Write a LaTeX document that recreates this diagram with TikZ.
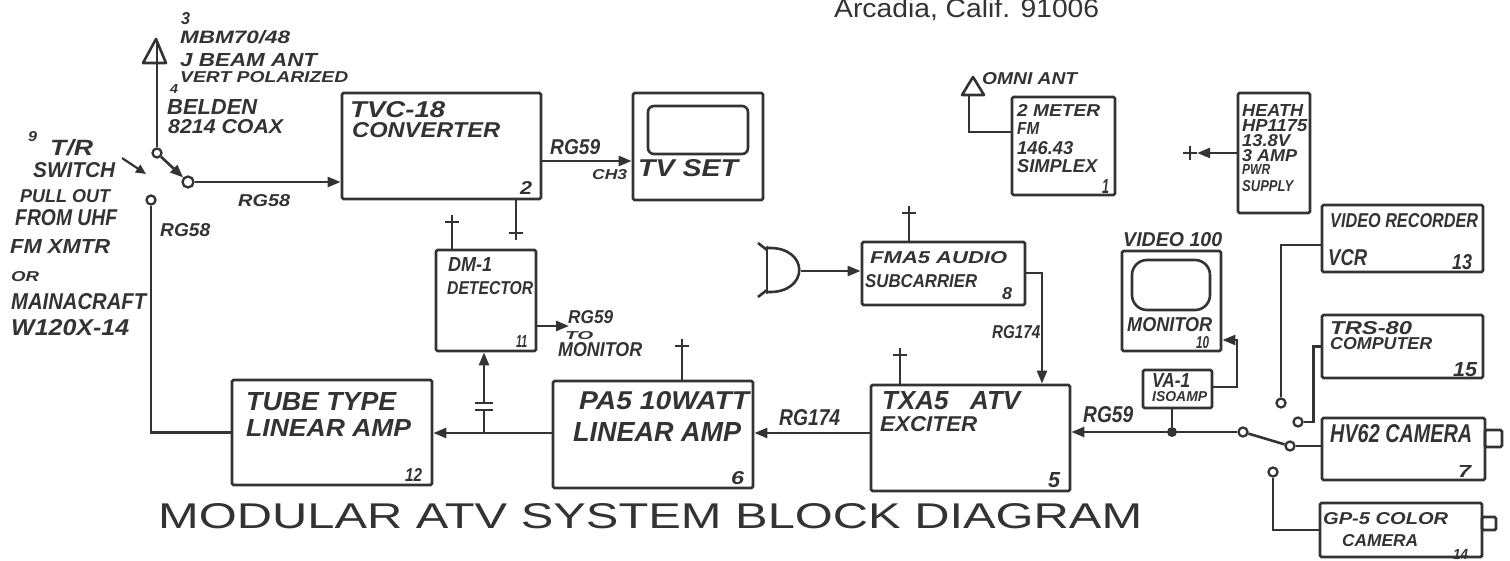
\documentclass[tikz,border=0pt]{standalone}
\usepackage{fontspec}
\setmainfont{Liberation Sans}
\newfontfamily\hand{Liberation Sans}
\usetikzlibrary{arrows.meta,calc}
\definecolor{ink}{HTML}{333333}
\newcommand\hw[3]{\resizebox{#1pt}{#2pt}{\hand\bfseries\itshape #3}}
\newcommand\lab[6]{\node[lbl] (#1) at (#2,#3) {\hw{#4}{#5}{#6}};}
\tikzset{
  box/.style={draw=ink,line width=2.8pt,inner sep=0pt,rounded corners=1.5pt},
  wire/.style={draw=ink,line width=2.6pt},
  arr/.style={wire,-{Triangle[length=13pt,width=10pt]}},
  lbl/.style={anchor=west,inner sep=0pt,text=ink},
  plus/.style={minimum size=14pt,inner sep=0pt,
    path picture={\draw[ink,line width=2.4pt]
      (path picture bounding box.north)--(path picture bounding box.south)
      (path picture bounding box.west)--(path picture bounding box.east);}},
  contact/.style={circle,draw=ink,line width=2.3pt,minimum size=9pt,inner sep=0pt,fill=white},
  jdot/.style={circle,fill=ink,minimum size=10pt,inner sep=0pt},
}
\begin{document}
\begin{tikzpicture}[x=1pt,y=-1pt]
\useasboundingbox[fill=white] (0,0) rectangle (1510,561);

% ---------- boxes ----------
\node[box,minimum width=199pt,minimum height=106pt] (tvc) at (441.5,146) {};
\node[box,minimum width=130pt,minimum height=107pt] (tv) at (698,146.5) {};
\node[box,minimum width=100pt,minimum height=101pt] (dm) at (486,300.5) {};
\node[box,minimum width=200pt,minimum height=105pt] (tube) at (332,432.5) {};
\node[box,minimum width=200pt,minimum height=107pt] (pa) at (653,434.5) {};
\node[box,minimum width=199pt,minimum height=106pt] (tx) at (970.5,438) {};
\node[box,minimum width=163pt,minimum height=63pt] (fma) at (943.5,273.5) {};
\node[box,minimum width=99pt,minimum height=100pt] (mon) at (1171.5,301) {};
\node[box,minimum width=69pt,minimum height=38pt] (va) at (1177.5,389) {};
\node[box,minimum width=103pt,minimum height=98pt] (meter) at (1063.5,146) {};
\node[box,minimum width=72pt,minimum height=120pt] (heath) at (1274,153) {};
\node[box,minimum width=161pt,minimum height=67pt] (vcr) at (1402.5,238.5) {};
\node[box,minimum width=161pt,minimum height=63pt] (trs) at (1402.5,346.5) {};
\node[box,minimum width=163pt,minimum height=62pt] (hv) at (1403.5,449) {};
\node[box,minimum width=162pt,minimum height=54pt] (gp) at (1401,530) {};
\node[box,minimum width=17pt,minimum height=17pt] (lens1) at (1493.5,438.5) {};
\node[box,minimum width=14pt,minimum height=13pt] (lens2) at (1489,523.5) {};

% screens
\draw[wire,rounded corners=6pt] (648,106) rectangle (748,154);
\draw[wire,rounded corners=15pt] (1132,260) rectangle (1210,310);

% ---------- antenna + T/R switch (top left) ----------
\draw[wire,line join=round] (156,39) -- (143,63) -- (166,63) -- cycle;
\coordinate (ant1) at (157,40);
\node[contact] (c1) at (157,153) {};
\node[contact,minimum size=11pt] (c2) at (188,182) {};
\node[contact] (c3) at (151,200) {};
\draw[wire] (ant1) -- (c1.north);
\draw[arr] (c1) -- (c2);
\draw[arr] (c2) -- (c2 -| tvc.west);
\draw[wire] (c3.south) |- (tube.west);
\coordinate (tra) at (122,158);
\coordinate (trb) at (146,174);
\draw[arr,line width=2.2pt,-{Triangle[length=10pt,width=9pt]}] (tra) -- (trb);

% ---------- TVC / TV ----------
\draw[arr] ([yshift=-15pt]tvc.east) -- ([yshift=-15pt]tvc.east -| tv.west);
\node[plus] (pTV) at (516,233) {};
\draw[wire] (pTV.north |- tvc.south) -- (pTV.north);

% ---------- DM-1 ----------
\node[plus] (pDM) at (452,222) {};
\draw[wire] (pDM.south) -- (pDM.south |- dm.north);
\coordinate (dmo) at (569,326);
\draw[arr] (dmo -| dm.east) -- (dmo);
\coordinate (capj) at (484,433);
\coordinate (capb) at (484,410);
\coordinate (capt) at (484,403);
\draw[wire] (capj) -- (capb);
\draw[wire] ([xshift=-9pt]capb) -- ([xshift=9pt]capb);
\draw[wire] ([xshift=-9pt]capt) -- ([xshift=9pt]capt);
\draw[arr] (capt) -- (capt |- dm.south);

% ---------- amplifier chain ----------
\draw[arr] ([yshift=1.5pt]pa.west) -- ([yshift=1.5pt]pa.west -| tube.east);
\draw[arr] ([yshift=5pt]tx.west) -- ([yshift=5pt]tx.west -| pa.east);
\node[plus] (pPA) at (682,346) {};
\draw[wire] (pPA.south) -- (pPA.south |- pa.north);
\node[plus] (pTX) at (900,355) {};
\draw[wire] (pTX.south) -- (pTX.south |- tx.north);

% ---------- FMA5 + mic ----------
\node[plus] (pFM) at (909,213) {};
\draw[wire] (pFM.south) -- (pFM.south |- fma.north);
\draw[wire,line cap=round] (767,247) -- (767,293);
\draw[wire] (767,248) .. controls (810,246) and (810,294) .. (767,292);
\draw[wire] (767,250) -- (758,243);
\draw[wire] (767,290) -- (758,297);
\coordinate (mic) at (801,271);
\draw[arr] (mic) -- (mic -| fma.west);
\coordinate (fmt) at (1042,273);
\draw[arr] (fmt -| fma.east) -| (fmt |- tx.north);

% ---------- video switching ----------
\node[contact] (c4) at (1243,432) {};
\node[contact] (c5) at (1290,446) {};
\node[contact] (c6) at (1281,403) {};
\node[contact] (c7) at (1298,422) {};
\node[contact] (c8) at (1273,472) {};
\draw[arr] (c4) -- (c4 -| tx.east);
\node[jdot] (jd) at (1172,432) {};
\draw[wire] (va.south -| jd) -- (jd);
\coordinate (vam) at (1237,340);
\draw[arr] ([yshift=2pt]va.east) -| (vam) -- (vam -| mon.east);
\draw[wire] (c4) -- (c5);
\draw[wire] (c5) -- (c5 -| hv.west);
\draw[wire] (c6.north) |- ([yshift=-6.5pt]vcr.west);
\draw[wire] (c7.east) -- ++(10,0) |- (trs.west);
\draw[wire] (c8.south) |- (gp.west);

% ---------- omni antenna, heath ----------
\draw[wire,line join=round] (973,77) -- (962,95) -- (984,95) -- cycle;
\coordinate (omni) at (969,95);
\draw[wire] (omni) |- ([yshift=14pt]meter.west);
\node[plus] (pHE) at (1190,153) {};
\draw[arr] (heath.west) -- (pHE.east);

% ---------- texts ----------
\node[anchor=base west,inner sep=0pt,text=ink] (addr) at (834,18) {\resizebox{265pt}{19pt}{Arcadia, Calif. 91006}};
\node[anchor=base west,inner sep=0pt,text=ink] (title) at (158,528) {\resizebox{984pt}{25pt}{MODULAR ATV SYSTEM BLOCK DIAGRAM}};

\lab{a1}{181}{19}{9}{12}{3}
\lab{a2}{180}{37}{110}{13}{MBM70/48}
\lab{a3}{180}{60}{137}{13}{J BEAM ANT}
\lab{a4}{180}{77}{168}{11}{VERT POLARIZED}
\lab{a5}{170}{89}{8}{9}{4}
\lab{a6}{167}{107.5}{90}{15}{BELDEN}
\lab{a7}{168}{127}{115}{14}{8214 COAX}
\lab{b1}{28}{137}{9}{10}{9}
\lab{b2}{50}{148}{43}{16}{T/R}
\lab{b3}{33}{170}{82}{15}{SWITCH}
\lab{b4}{20}{196}{90}{13}{PULL OUT}
\lab{b5}{15}{218}{102}{16}{FROM UHF}
\lab{b6}{10}{247}{100}{14}{FM XMTR}
\lab{b7}{11}{277}{28}{10}{OR}
\lab{b8}{11}{302}{135}{16}{MAINACRAFT}
\lab{b9}{11}{328}{118}{16}{W120X-14}
\lab{r1}{238}{201}{52}{12}{RG58}
\lab{r2}{160}{230}{50}{13}{RG58}

\lab{t1}{350}{110}{95}{16}{TVC-18}
\lab{t2}{352}{130.5}{148}{15}{CONVERTER}
\lab{t3}{520}{188}{12}{13}{2}
\lab{t4}{550}{147}{50}{15}{RG59}
\lab{t5}{592}{175}{35}{10}{CH3}
\lab{t6}{638}{168}{100}{17}{TV SET}

\lab{d1}{448}{265}{44}{14}{DM-1}
\lab{d2}{447}{288}{86}{13}{DETECTOR}
\lab{d3}{516}{342}{11}{12}{11}
\lab{d4}{568}{317}{45}{13}{RG59}
\lab{d5}{565}{336}{28}{8}{TO}
\lab{d6}{558}{350}{84}{14}{MONITOR}

\lab{u1}{246}{402}{150}{18}{TUBE TYPE}
\lab{u2}{246}{428}{165}{17}{LINEAR AMP}
\lab{u3}{405}{475}{17}{13}{12}

\lab{p1}{579}{401}{170}{18}{PA5 10WATT}
\lab{p2}{573}{432}{168}{19}{LINEAR AMP}
\lab{p3}{731}{478}{13}{13}{6}
\lab{p4}{779}{418}{61}{16}{RG174}

\lab{x1}{882}{401}{138}{18}{TXA5\ \ \ ATV}
\lab{x2}{880}{424}{97}{15}{EXCITER}
\lab{x3}{1048}{480}{12}{15}{5}
\lab{x4}{1083}{415}{50}{16}{RG59}
\lab{x5}{992}{332}{48}{13}{RG174}

\lab{f1}{870}{258}{137}{12}{FMA5 AUDIO}
\lab{f2}{865}{281}{112}{13}{SUBCARRIER}
\lab{f3}{1002}{294}{10}{12}{8}

\lab{m1}{1123}{240}{99}{14}{VIDEO 100}
\lab{m2}{1127}{325}{85}{14}{MONITOR}
\lab{m3}{1196}{343}{13}{12}{10}
\lab{m4}{1152}{380}{38}{14}{VA-1}
\lab{m5}{1152}{397}{55}{10}{ISOAMP}

\lab{v1}{1330}{221}{148}{14}{VIDEO RECORDER}
\lab{v2}{1328}{258}{39}{16}{VCR}
\lab{v3}{1452}{262}{20}{15}{13}
\lab{v4}{1330}{328}{82}{13}{TRS-80}
\lab{v5}{1330}{344}{102}{12}{COMPUTER}
\lab{v6}{1453}{370}{24}{14}{15}
\lab{v7}{1330}{434}{142}{18}{HV62 CAMERA}
\lab{v8}{1458}{471}{13}{12}{7}
\lab{v9}{1323}{519}{125}{12}{GP-5 COLOR}
\lab{v10}{1342}{541}{76}{12}{CAMERA}
\lab{v11}{1453}{554}{15}{10}{14}

\lab{o1}{982}{79}{95}{12}{OMNI ANT}
\lab{o2}{1017}{111}{83}{12}{2 METER}
\lab{o3}{1017}{129}{22}{12}{FM}
\lab{o4}{1017}{148}{56}{13}{146.43}
\lab{o5}{1017}{166}{80}{13}{SIMPLEX}
\lab{o6}{1102}{187}{7}{14}{1}

\lab{h1}{1242}{111}{61}{12}{HEATH}
\lab{h2}{1242}{126}{65}{12}{HP1175}
\lab{h3}{1242}{141}{48}{12}{13.8V}
\lab{h4}{1242}{156}{55}{12}{3 AMP}
\lab{h5}{1242}{170}{28}{10}{PWR}
\lab{h6}{1242}{186}{51}{11}{SUPPLY}
\end{tikzpicture}
\end{document}
